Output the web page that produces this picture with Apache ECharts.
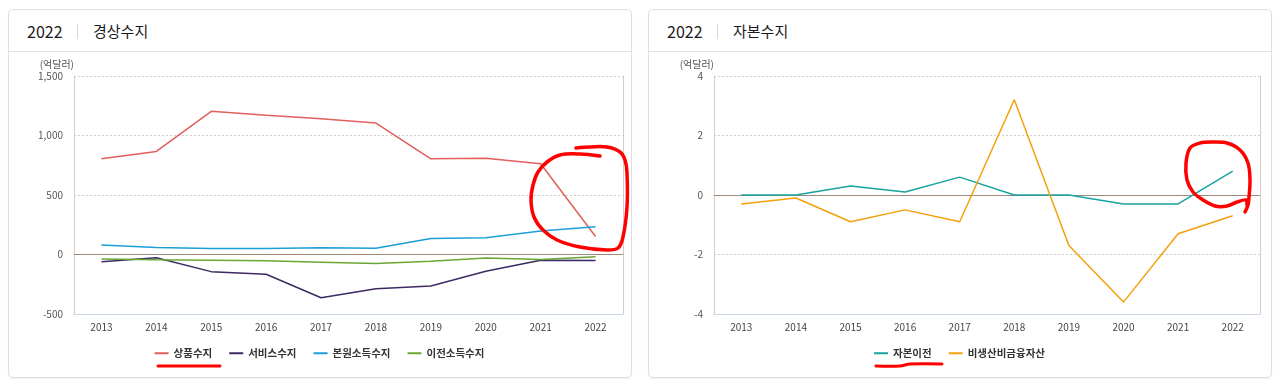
<!DOCTYPE html>
<html>
<head>
<meta charset="utf-8">
<script src="https://cdn.jsdelivr.net/npm/echarts@6/dist/echarts.min.js"></script>
<style>
  html, body { margin: 0; padding: 0; background: #ffffff; width: 1280px; height: 389px; overflow: hidden; font-family: 'Noto Sans CJK KR', 'Noto Sans', sans-serif; }
  .card { position: absolute; top: 9px; width: 624px; height: 369px; box-sizing: border-box; border: 1px solid #dfdfdf; border-radius: 5px; box-shadow: 0 1px 2px rgba(0,0,0,0.06); background: #fff; }
  .head { position: absolute; left: 0; top: 0; right: 0; height: 41px; border-bottom: 1px solid #e2e2e2; }
  .yr { position: absolute; left: 18px; top: 10px; font-size: 16px; line-height: 22px; color: #1a1a1a; }
  .sep { position: absolute; left: 68px; top: 14px; width: 1px; height: 15px; background: #d8d8d8; }
  .ttl { position: absolute; left: 84px; top: 10px; font-size: 15px; line-height: 22px; color: #1a1a1a; }
  .chart { position: absolute; top: 51px; width: 621px; height: 325px; }
</style>
</head>
<body>
<div class="card" style="left:8px"><div class="head"><span class="yr">2022</span><span class="sep"></span><span class="ttl">경상수지</span></div></div>
<div class="card" style="left:648px"><div class="head"><span class="yr">2022</span><span class="sep"></span><span class="ttl">자본수지</span></div></div>
<div id="c1" class="chart" style="left:9px"></div>
<div id="c2" class="chart" style="left:649px"></div>
<script>
// ---- data ----
const years = ['2013','2014','2015','2016','2017','2018','2019','2020','2021','2022'];
// 경상수지 (억달러)
const goodsBalance     = [805, 866, 1203, 1170, 1140, 1105, 804, 809, 762, 151];
const servicesBalance  = [-60, -28, -144, -166, -363, -287, -264, -141, -49, -51];
const primaryIncome    = [80, 58, 50, 50, 57, 53, 134, 141, 198, 233];
const secondaryIncome  = [-38, -45, -48, -53, -65, -76, -56, -29, -42, -18];
// 자본수지 (억달러)
const capitalTransfers = [0, 0, 0.3, 0.1, 0.6, 0, 0, -0.3, -0.3, 0.8];
const nonProducedAssets = [-0.3, -0.1, -0.9, -0.5, -0.9, 3.2, -1.7, -3.6, -1.3, -0.7];

const currentNames = ['상품수지', '서비스수지', '본원소득수지', '이전소득수지'];
const capitalNames = ['자본이전', '비생산비금융자산'];
const currentTicks = { min: -500, max: 1500, interval: 500 };
const capitalTicks = { min: -4, max: 4, interval: 2 };
const unitLabel = '(억달러)';

const FONT = "'Noto Sans CJK KR', 'Noto Sans', sans-serif";

function fmt(v) { return Math.abs(v) >= 1000 ? v.toLocaleString('en-US') : String(v); }

function buildOption(names, datas, colors, ticks, gridCfg, scribbles) {
  const series = names.map((n, i) => ({
    name: n, type: 'line', data: datas[i], symbol: 'none', xAxisIndex: 0, yAxisIndex: 0,
    lineStyle: { color: colors[i], width: 1.5 }, itemStyle: { color: colors[i] }, z: 3
  }));
  return {
    animation: false,
    grid: gridCfg,
    legend: {
      data: names, left: 'center', top: 292, itemWidth: 14, itemHeight: 2, itemGap: 17, icon: 'rect',
      textStyle: { fontFamily: FONT, fontSize: 10.5, color: '#333', fontWeight: 'bold' }
    },
    xAxis: [
      { type: 'category', data: years, boundaryGap: true,
        axisLine: { onZero: false, lineStyle: { color: '#c9d7ec', width: 1 } },
        axisTick: { show: false },
        axisLabel: { margin: 8, fontFamily: FONT, fontSize: 10, color: '#444' },
        splitLine: { show: false } },
      { type: 'category', data: years, boundaryGap: true, position: 'bottom',
        axisLine: { onZero: true, lineStyle: { color: '#9d8c7e', width: 1 } },
        axisTick: { show: false }, axisLabel: { show: false }, splitLine: { show: false } }
    ],
    yAxis: [
      { type: 'value', min: ticks.min, max: ticks.max, interval: ticks.interval,
        name: unitLabel, nameLocation: 'end', nameGap: 7,
        nameTextStyle: { fontFamily: FONT, fontSize: 10, color: '#555', align: 'right', padding: [0, 0, 0, 0] },
        axisLine: { show: true, lineStyle: { color: '#d9ccc0' } },
        axisTick: { show: false },
        axisLabel: { margin: 11, fontFamily: FONT, fontSize: 10, color: '#555', formatter: fmt },
        splitLine: { show: true, lineStyle: { color: '#cfcfcf', type: [2, 2], width: 1 } } },
      { type: 'value', min: ticks.min, max: ticks.max, interval: ticks.interval, position: 'right',
        axisLine: { show: true, lineStyle: { color: '#d9ccc0' } },
        axisTick: { show: false }, axisLabel: { show: false }, splitLine: { show: false } }
    ],
    series: series,
    graphic: scribbles
  };
}

function scribble(points, ox, oy, w) {
  return { type: 'polyline', z: 100, silent: true,
    shape: { points: points.map(p => [p[0] - ox, p[1] - oy]), smooth: 0.35 },
    style: { stroke: '#ff0000', lineWidth: w || 3.5, fill: null, lineCap: 'round', lineJoin: 'round' } };
}

// hand-drawn red annotations (page pixel coordinates)
const leftLoop = [[600,156],[580,154],[560,155],[547,162],[538,172],[533,185],[531,200],[534,217],[543,230],[557,240],[580,247],[607,250],[618,248],[623,237],[627,207],[627,173],[625,160],[620,152],[607,147],[590,147],[576,148]];
const leftUnder = [[158,366],[190,366],[220,366]];
const rightLoop = [[1245,212],[1248,205],[1249,197],[1250,180],[1248,163],[1240,150],[1227,143],[1212,142],[1200,143],[1190,148],[1186,163],[1187,180],[1193,192],[1203,200],[1215,206],[1227,206],[1237,202],[1246,200],[1247,205]];
const rightUnder = [[876,366],[900,366],[910,364],[942,364]];

const c1 = echarts.init(document.getElementById('c1'), null, { renderer: 'canvas' });
c1.setOption(buildOption(currentNames,
  [goodsBalance, servicesBalance, primaryIncome, secondaryIncome],
  ['#e25f5b', '#3d2a63', '#1b9fd8', '#6aa632'],
  currentTicks,
  { left: 65, right: 7, top: 25, bottom: 62, containLabel: false },
  [scribble(leftLoop, 9, 51, 3.5), scribble(leftUnder, 9, 51, 3)]));

const c2 = echarts.init(document.getElementById('c2'), null, { renderer: 'canvas' });
c2.setOption(buildOption(capitalNames,
  [capitalTransfers, nonProducedAssets],
  ['#17a39f', '#f2a10d'],
  capitalTicks,
  { left: 65, right: 10, top: 25, bottom: 62, containLabel: false },
  [scribble(rightLoop, 649, 51, 3.5), scribble(rightUnder, 649, 51, 3)]));
</script>
</body>
</html>
